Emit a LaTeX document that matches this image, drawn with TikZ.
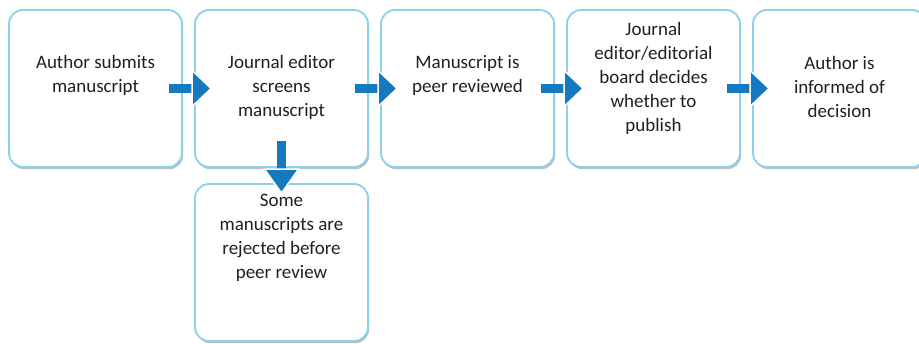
\documentclass[tikz,border=0pt]{standalone}
\usepackage{fontspec}
\setmainfont{Carlito}
\usetikzlibrary{arrows.meta,shadows}
\definecolor{boxline}{HTML}{8DCFEC}
\definecolor{arrowblue}{HTML}{1479BE}
\definecolor{txt}{HTML}{231F20}
\tikzset{
  box/.style={draw=boxline, line width=1.8pt, rounded corners=14pt, fill=white,
    minimum width=173pt, minimum height=157pt, inner sep=0pt,
    drop shadow={shadow xshift=1.2pt, shadow yshift=-2.2pt, fill=black, opacity=0.25}},
  lbl/.style={align=center, text=txt, inner sep=0pt,
    font=\fontsize{19pt}{24pt}\selectfont},
  shaft/.style={draw=arrowblue, line width=9pt},
  head/.style={fill=arrowblue, draw=white, line width=1.5pt, line join=miter}
}
\begin{document}
\begin{tikzpicture}[x=1pt,y=-1pt]
\useasboundingbox (0,0) rectangle (919,344);
\node[box] (b1) at (95.5,88.5) {};
\node[box] (b2) at (281.5,88.5) {};
\node[box] (b3) at (467.5,88.5) {};
\node[box] (b4) at (653.5,88.5) {};
\node[box] (b5) at (839.5,88.5) {};
\node[box] (b6) at (281.5,262.5) {};
\node[lbl] (t1) at (95.5,75) {Author submits\\manuscript};
\node[lbl] (t2) at (281.5,87) {Journal editor\\screens\\manuscript};
\node[lbl] (t3) at (467.5,75) {Manuscript is\\peer reviewed};
\node[lbl] (t4) at (653.5,78) {Journal\\editor/editorial\\board decides\\whether to\\publish};
\node[lbl] (t5) at (839.5,87) {Author is\\informed of\\decision};
\node[lbl] (t6) at (281.5,238) {Some\\manuscripts are\\rejected before\\peer review};
\foreach \a/\b in {b1/b2,b2/b3,b3/b4,b4/b5}{
  \draw[shaft] ([xshift=-14pt]\a.east) -- ([xshift=1pt]\b.west);
  \filldraw[head] ([xshift=17pt]\b.west) -- ++(-19,-18) -- ++(0,36) -- cycle;
}
\draw[shaft] ([yshift=27pt]b2.south) -- ([yshift=12pt]b6.north);
\filldraw[head] ([yshift=-10pt]b6.north) -- ++(-17,-24) -- ++(34,0) -- cycle;
\end{tikzpicture}
\end{document}
